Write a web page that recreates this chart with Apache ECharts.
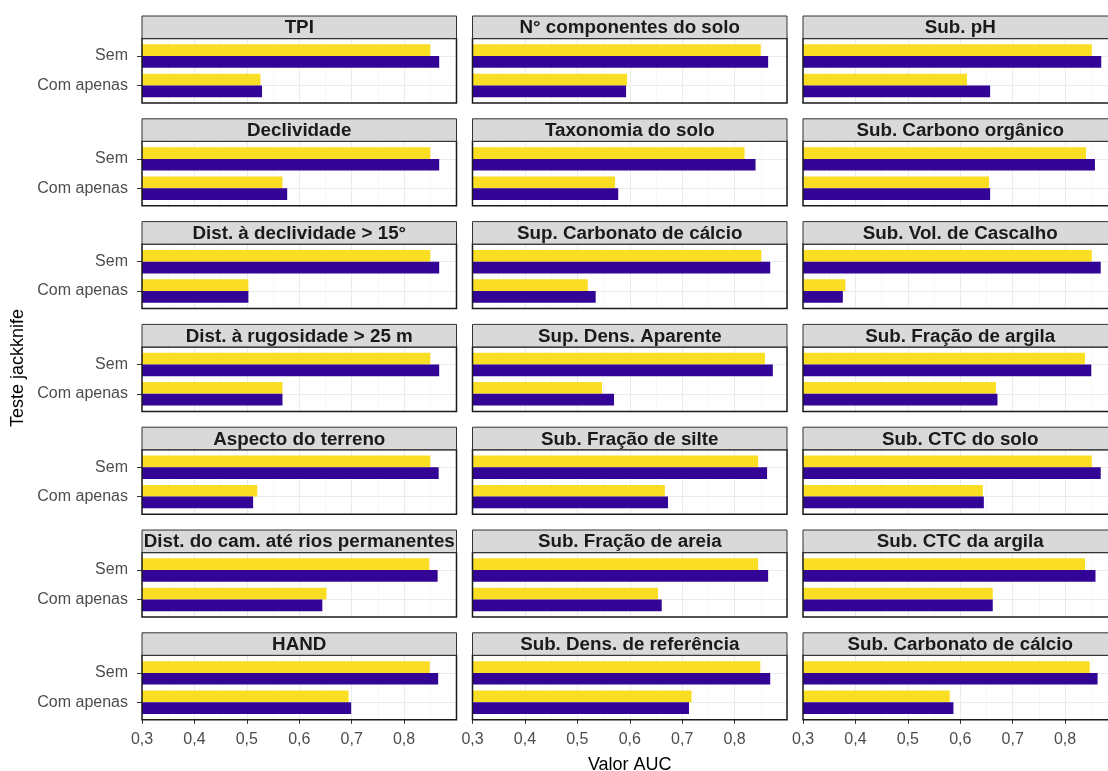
<!DOCTYPE html>
<html>
<head>
<meta charset="utf-8">
<script src="https://cdn.jsdelivr.net/npm/echarts@6/dist/echarts.min.js"></script>
<style>
  html, body { margin: 0; padding: 0; background: #ffffff; }
  #chart { width: 1108px; height: 771px; }
</style>
</head>
<body>
<div id="chart"></div>
<script>
// Facet titles, filled row by row (3 per row)
const variaveis = [
  'TPI', 'N° componentes do solo', 'Sub. pH',
  'Declividade', 'Taxonomia do solo', 'Sub. Carbono orgânico',
  'Dist. à declividade > 15°', 'Sup. Carbonato de cálcio', 'Sub. Vol. de Cascalho',
  'Dist. à rugosidade > 25 m', 'Sup. Dens. Aparente', 'Sub. Fração de argila',
  'Aspecto do terreno', 'Sub. Fração de silte', 'Sub. CTC do solo',
  'Dist. do cam. até rios permanentes', 'Sub. Fração de areia', 'Sub. CTC da argila',
  'HAND', 'Sub. Dens. de referência', 'Sub. Carbonato de cálcio'
];
const categorias = ['Sem', 'Com apenas'];

// AUC values (yellow series) for each facet
const treinoSem = [0.850, 0.850, 0.851, 0.850, 0.819, 0.840, 0.850, 0.851, 0.851, 0.850, 0.858, 0.838,
                   0.850, 0.845, 0.851, 0.848, 0.845, 0.838, 0.849, 0.849, 0.847];
const treinoCom = [0.526, 0.595, 0.613, 0.568, 0.572, 0.655, 0.503, 0.520, 0.381, 0.568, 0.547, 0.668,
                   0.520, 0.667, 0.643, 0.652, 0.654, 0.662, 0.694, 0.718, 0.580];
// AUC values (purple series) for each facet
const testeSem = [0.867, 0.864, 0.869, 0.867, 0.840, 0.857, 0.867, 0.868, 0.868, 0.867, 0.873, 0.850,
                  0.866, 0.862, 0.868, 0.864, 0.864, 0.858, 0.865, 0.868, 0.862];
const testeCom = [0.529, 0.593, 0.657, 0.577, 0.578, 0.657, 0.503, 0.535, 0.376, 0.568, 0.570, 0.671,
                  0.512, 0.673, 0.645, 0.644, 0.661, 0.662, 0.699, 0.713, 0.587];

const ticksX = [0.3, 0.4, 0.5, 0.6, 0.7, 0.8];

const COR_AMARELO = '#FADE24';
const COR_ROXO = '#320596';
const FONTE = '"Liberation Sans", Arial, sans-serif';

// facet layout
const nCols = 3;
const colLeft0 = 142, colPitch = 330.5, panelW = 314.5;
const rowTop0 = 16, rowPitch = 102.8, stripH = 22.5, panelH = 64.5;
const nRows = Math.ceil(variaveis.length / nCols);
const xMin = 0.3, xMax = 0.9;

const grid = [], xAxis = [], yAxis = [], series = [], graphic = [];

variaveis.forEach(function (nome, i) {
  const r = Math.floor(i / nCols), c = i % nCols;
  const left = colLeft0 + c * colPitch;
  const stripTop = rowTop0 + r * rowPitch;
  const top = stripTop + stripH;
  const unit = panelH / 2.2;           // discrete scale with 0.6 expansion per side
  const gP = grid.length, gB = gP + 1;

  // panel frame, grid lines and axis labels
  grid.push({ left: left, top: top, width: panelW, height: panelH, show: true,
              outerBoundsMode: 'none', containLabel: false,
              backgroundColor: 'transparent', borderColor: '#1a1a1a', borderWidth: 1.5, z: 5 });
  // band region that holds the bars
  grid.push({ left: left, top: top + 0.1 * unit, width: panelW, height: 2 * unit,
              outerBoundsMode: 'none', containLabel: false });

  xAxis.push({
    type: 'value', gridIndex: gP, min: xMin, max: xMax, interval: 0.1,
    axisLine: { show: false },
    axisTick: { show: r === nRows - 1, customValues: ticksX, length: 4, lineStyle: { color: '#333333', width: 1 } },
    axisLabel: { show: r === nRows - 1, customValues: ticksX, margin: 12,
                 formatter: function (v) { return v.toFixed(1).replace('.', ','); },
                 color: '#4d4d4d', fontSize: 16, fontFamily: FONTE },
    splitLine: { show: true, lineStyle: { color: '#ebebeb', width: 1 } },
    minorTick: { show: false, splitNumber: 2 },
    minorSplitLine: { show: true, lineStyle: { color: '#f3f3f3', width: 0.7 } }
  });
  yAxis.push({
    type: 'value', gridIndex: gP, min: 0.4, max: 2.6, inverse: true,
    axisLine: { show: false },
    axisTick: { show: c === 0, customValues: [1, 2], length: 5, lineStyle: { color: '#333333', width: 1 } },
    axisLabel: { show: c === 0, customValues: [1, 2], margin: 14,
                 formatter: function (v) { return categorias[Math.round(v) - 1]; },
                 color: '#4d4d4d', fontSize: 16, fontFamily: FONTE },
    splitLine: { show: true, lineStyle: { color: '#ebebeb', width: 1 } }
  });

  xAxis.push({ type: 'value', gridIndex: gB, min: xMin, max: xMax, show: false });
  yAxis.push({ type: 'category', gridIndex: gB, data: categorias, inverse: true, show: false });

  series.push({
    type: 'bar', name: 'Treino', xAxisIndex: gB, yAxisIndex: gB,
    data: [treinoSem[i], treinoCom[i]], barWidth: '40%', barGap: '0%',
    itemStyle: { color: COR_AMARELO }, silent: true, z: 2
  });
  series.push({
    type: 'bar', name: 'Teste', xAxisIndex: gB, yAxisIndex: gB,
    data: [testeSem[i], testeCom[i]], barWidth: '40%', barGap: '0%',
    itemStyle: { color: COR_ROXO }, silent: true, z: 2
  });

  // facet strip
  graphic.push({
    type: 'rect', z: 10, silent: true,
    shape: { x: left, y: stripTop, width: panelW, height: stripH },
    style: { fill: '#d9d9d9', stroke: '#333333', lineWidth: 1 }
  });
  graphic.push({
    type: 'text', z: 11, silent: true,
    x: left + panelW / 2, y: stripTop + stripH / 2 + 1,
    style: { text: nome, align: 'center', verticalAlign: 'middle',
             font: 'bold 18.8px ' + FONTE, fill: '#1a1a1a' }
  });
});

// axis titles
const plotLeft = colLeft0, plotRight = colLeft0 + (nCols - 1) * colPitch + panelW;
const plotTop = rowTop0, plotBottom = rowTop0 + (nRows - 1) * rowPitch + stripH + panelH;
graphic.push({
  type: 'text', silent: true, x: (plotLeft + plotRight) / 2, y: 765,
  style: { text: 'Valor AUC', align: 'center', verticalAlign: 'middle', font: '18px ' + FONTE, fill: '#000000' }
});
graphic.push({
  type: 'text', silent: true, x: 18, y: (plotTop + plotBottom) / 2, rotation: Math.PI / 2,
  style: { text: 'Teste jackknife', align: 'center', verticalAlign: 'middle', font: '18px ' + FONTE, fill: '#000000' }
});

const chart = echarts.init(document.getElementById('chart'), null, { renderer: 'canvas' });
chart.setOption({
  backgroundColor: '#ffffff',
  animation: false,
  grid: grid, xAxis: xAxis, yAxis: yAxis, series: series, graphic: graphic
});
</script>
</body>
</html>
